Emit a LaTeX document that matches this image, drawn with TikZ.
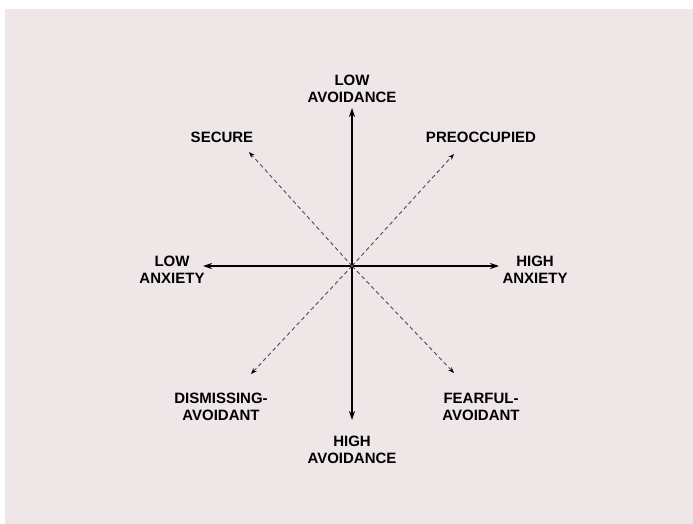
\documentclass[tikz,border=0pt]{standalone}
\usepackage{fontspec}
\setmainfont{Liberation Sans}
\usepackage{tikz}
\usetikzlibrary{arrows.meta}
\definecolor{paper}{HTML}{EFE6E7}
\tikzset{
    axis/.style={line width=1.3pt, -{Stealth[length=9pt, width=6pt]}},
    diag/.style={dash pattern=on 4pt off 3pt, line width=0.9pt, gray!60!black,
        -{Stealth[length=6pt, width=4.5pt, black]}},
    lbl/.style={font=\bfseries\fontsize{15}{17.5}\selectfont, align=center, inner sep=0pt}
}

\begin{document}
\begin{tikzpicture}[x=1pt, y=-1pt]
        \useasboundingbox (0,0) rectangle (693,524);
        \fill[paper] (5,9) rectangle (693,524);

        % Explicit Coordinates (pixel grid, y downward)
        \coordinate (O) at (352, 266);
        \coordinate (N) at (352, 108);
        \coordinate (S) at (352, 420);
        \coordinate (W) at (203, 266);
        \coordinate (E) at (499, 266);
        \coordinate (NW) at (249, 152);
        \coordinate (NE) at (454, 154);
        \coordinate (SW) at (251, 374);
        \coordinate (SE) at (454, 373);

        \foreach \tip in {N,S,W,E} {
            \draw[axis] (O) -- (\tip);
        }
        \foreach \tip in {NW,NE,SW,SE} {
            \draw[diag] (O) -- (\tip);
        }

        \node[lbl] (lowAvoid) at (352, 89) {LOW\\AVOIDANCE};
        \node[lbl] (highAvoid) at (352, 450) {HIGH\\AVOIDANCE};
        \node[lbl] (lowAnx) at (172, 270) {LOW\\ANXIETY};
        \node[lbl] (highAnx) at (535, 270) {HIGH\\ANXIETY};
        \node[lbl] (secure) at (222, 137) {SECURE};
        \node[lbl] (preocc) at (481, 137) {PREOCCUPIED};
        \node[lbl] (dismiss) at (221, 407) {DISMISSING-\\AVOIDANT};
        \node[lbl] (fearful) at (481, 407) {FEARFUL-\\AVOIDANT};
    \end{tikzpicture}
\end{document}
